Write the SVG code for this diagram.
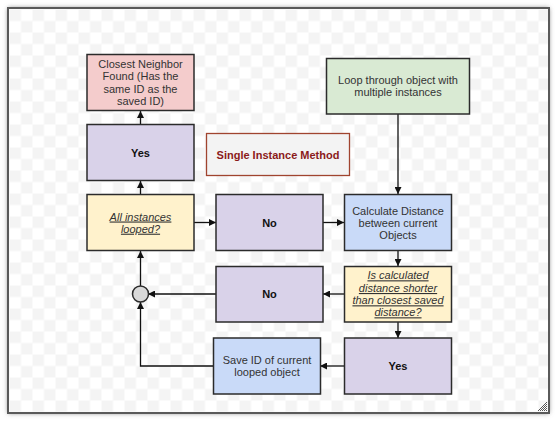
<svg xmlns="http://www.w3.org/2000/svg" width="556" height="421" viewBox="0 0 556 421">
<defs>
<pattern id="chk" x="9.5" y="9.5" width="23" height="23" patternUnits="userSpaceOnUse">
<rect width="23" height="23" fill="#ffffff"/>
<rect width="11.5" height="11.5" fill="#f4f4f4"/>
<rect x="11.5" y="11.5" width="11.5" height="11.5" fill="#f4f4f4"/>
</pattern>
<pattern id="grip" width="2" height="2" patternUnits="userSpaceOnUse">
<rect width="2" height="2" fill="#ffffff"/>
<rect width="1" height="1" fill="#555"/>
<rect x="1" y="1" width="1" height="1" fill="#555"/>
</pattern>
<filter id="sh" x="-5%" y="-5%" width="110%" height="110%">
<feGaussianBlur stdDeviation="2.5"/>
</filter>
<marker id="ah" viewBox="0 0 10 10" refX="10" refY="5" markerWidth="7" markerHeight="7" markerUnits="userSpaceOnUse" orient="auto">
<path d="M0,0 L10,5 L0,10 Z" fill="#111"/>
</marker>
<style>
.n{stroke:#2b2b2b;stroke-width:1.5}
.t{font-family:"Liberation Sans",Arial,sans-serif;font-size:11px;fill:#333;text-anchor:middle}
.b{font-weight:bold;fill:#111}
.q{font-style:italic;text-decoration:underline}
.c{fill:none;stroke:#111;stroke-width:1.3}
</style>
</defs>
<rect width="556" height="421" fill="#ffffff"/>
<rect x="8" y="8" width="541" height="405" fill="#777" filter="url(#sh)"/>
<rect x="8" y="8" width="541" height="405" fill="url(#chk)" stroke="#5a5a5a" stroke-width="2"/>
<path d="M547,401 L547,411 L537,411 Z" fill="url(#grip)"/>

<g id="connectors">
<line class="c" x1="140.5" y1="124" x2="140.5" y2="111" marker-end="url(#ah)"/>
<line class="c" x1="140.5" y1="194" x2="140.5" y2="181" marker-end="url(#ah)"/>
<line class="c" x1="194" y1="222.5" x2="216" y2="222.5" marker-end="url(#ah)"/>
<line class="c" x1="323" y1="222.5" x2="344" y2="222.5" marker-end="url(#ah)"/>
<line class="c" x1="398" y1="114" x2="398" y2="194" marker-end="url(#ah)"/>
<line class="c" x1="398" y1="251" x2="398" y2="266" marker-end="url(#ah)"/>
<line class="c" x1="344" y1="294" x2="323" y2="294" marker-end="url(#ah)"/>
<line class="c" x1="398" y1="322" x2="398" y2="338" marker-end="url(#ah)"/>
<line class="c" x1="216" y1="294" x2="148" y2="294" marker-end="url(#ah)"/>
<line class="c" x1="344" y1="366" x2="320" y2="366" marker-end="url(#ah)"/>
<polyline class="c" points="213,366 140.5,366 140.5,302" marker-end="url(#ah)"/>
<line class="c" x1="140.5" y1="286" x2="140.5" y2="251" marker-end="url(#ah)"/>
</g>

<g id="closest">
<rect class="n" x="87" y="54.5" width="107" height="56" fill="#f4cccc"/>
<text class="t" x="140.5" y="68">Closest Neighbor</text>
<text class="t" x="140.5" y="80.3">Found (Has the</text>
<text class="t" x="140.5" y="92.8">same ID as the</text>
<text class="t" x="140.5" y="105">saved ID)</text>
</g>
<g id="yes1">
<rect class="n" x="87" y="124.5" width="107" height="56" fill="#d9d2e9"/>
<text class="t b" x="140.5" y="156.5">Yes</text>
</g>
<g id="title">
<rect x="206.5" y="133.5" width="143" height="42" fill="#f3f3f3" stroke="#a0442f" stroke-width="1.3"/>
<text class="t b" x="278" y="158.5" style="fill:#8b1a1a">Single Instance Method</text>
</g>
<g id="loop">
<rect class="n" x="326.5" y="58.5" width="143" height="55.5" fill="#d9ead3"/>
<text class="t" x="398" y="84">Loop through object with</text>
<text class="t" x="398" y="96.3">multiple instances</text>
</g>
<g id="allinst">
<rect class="n" x="87" y="194.5" width="107" height="56" fill="#fff2cc"/>
<text class="t q" x="140.5" y="220.5">All instances</text>
<text class="t q" x="140.5" y="232.7">looped?</text>
</g>
<g id="no1">
<rect class="n" x="216" y="194.5" width="107" height="56" fill="#d9d2e9"/>
<text class="t b" x="269.5" y="226.5">No</text>
</g>
<g id="calc">
<rect class="n" x="344.5" y="194.5" width="107" height="56" fill="#c9daf8"/>
<text class="t" x="398" y="214.7">Calculate Distance</text>
<text class="t" x="398" y="226.7">between current</text>
<text class="t" x="398" y="238.5">Objects</text>
</g>
<g id="iscalc">
<rect class="n" x="344.5" y="266.5" width="107" height="55.5" fill="#fff2cc"/>
<text class="t q" x="398" y="279.3">Is calculated</text>
<text class="t q" x="398" y="292">distance shorter</text>
<text class="t q" x="398" y="304.3">than closest saved</text>
<text class="t q" x="398" y="316.3">distance?</text>
</g>
<g id="no2">
<rect class="n" x="216" y="266.5" width="107" height="55.5" fill="#d9d2e9"/>
<text class="t b" x="269.5" y="298">No</text>
</g>
<g id="yes2">
<rect class="n" x="344.5" y="338" width="107" height="56" fill="#d9d2e9"/>
<text class="t b" x="398" y="370">Yes</text>
</g>
<g id="save">
<rect class="n" x="213.5" y="338" width="107" height="56" fill="#c9daf8"/>
<text class="t" x="267" y="364">Save ID of current</text>
<text class="t" x="267" y="376">looped object</text>
</g>
<g id="merge">
<circle class="n" cx="140.5" cy="294" r="8" fill="#d9d9d9"/>
</g>
</svg>
